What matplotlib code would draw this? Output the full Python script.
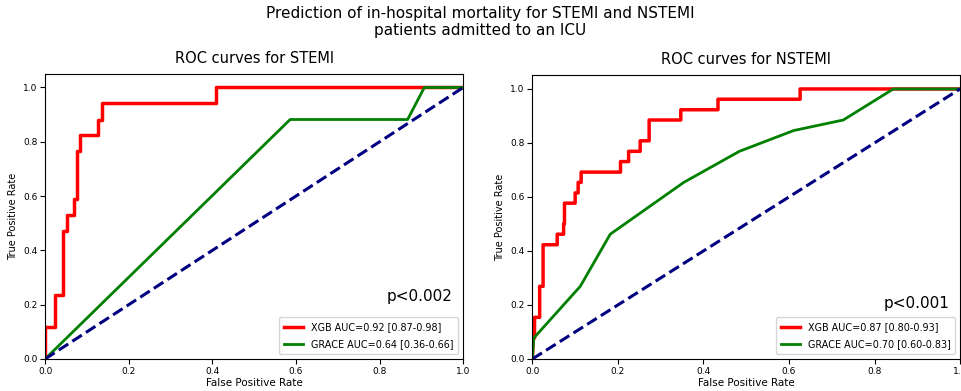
import matplotlib
matplotlib.use("Agg")
import matplotlib.pyplot as plt
from matplotlib import font_manager

# STEMI
stemi_xgb_fpr = [0.0, 0.0, 0.024, 0.024, 0.042, 0.042, 0.052, 0.052, 0.068, 0.068,
                 0.076, 0.076, 0.084, 0.084, 0.126, 0.126, 0.136, 0.136, 0.408, 0.408, 1.0]
stemi_xgb_tpr = [0.0, 0.118, 0.118, 0.235, 0.235, 0.471, 0.471, 0.529, 0.529, 0.588,
                 0.588, 0.765, 0.765, 0.824, 0.824, 0.882, 0.882, 0.941, 0.941, 1.0, 1.0]
stemi_grace_fpr = [0.0, 0.586, 0.867, 0.907, 1.0]
stemi_grace_tpr = [0.0, 0.882, 0.882, 1.0, 1.0]

# NSTEMI
nstemi_xgb_fpr = [0.0, 0.002, 0.005, 0.005, 0.017, 0.017, 0.025, 0.025, 0.058, 0.058,
                  0.073, 0.073, 0.075, 0.075, 0.1, 0.1, 0.107, 0.107, 0.114, 0.114,
                  0.206, 0.206, 0.225, 0.225, 0.252, 0.252, 0.273, 0.273, 0.347, 0.347,
                  0.434, 0.434, 0.626, 0.626, 1.0]
nstemi_xgb_tpr = [0.0, 0.077, 0.077, 0.154, 0.154, 0.269, 0.269, 0.423, 0.423, 0.462,
                  0.462, 0.5, 0.5, 0.577, 0.577, 0.615, 0.615, 0.654, 0.654, 0.692,
                  0.692, 0.731, 0.731, 0.769, 0.769, 0.808, 0.808, 0.885, 0.885, 0.923,
                  0.923, 0.962, 0.962, 1.0, 1.0]
nstemi_grace_fpr = [0.0, 0.003, 0.112, 0.182, 0.354, 0.484, 0.611, 0.727, 0.844, 1.0]
nstemi_grace_tpr = [0.0, 0.077, 0.269, 0.462, 0.654, 0.769, 0.846, 0.885, 1.0, 1.0]

panels = [
    ("ROC curves for STEMI", stemi_xgb_fpr, stemi_xgb_tpr, stemi_grace_fpr, stemi_grace_tpr,
     "XGB AUC=0.92 [0.87-0.98]", "GRACE AUC=0.64 [0.36-0.66]", "p<0.002", 0.23),
    ("ROC curves for NSTEMI", nstemi_xgb_fpr, nstemi_xgb_tpr, nstemi_grace_fpr, nstemi_grace_tpr,
     "XGB AUC=0.87 [0.80-0.93]", "GRACE AUC=0.70 [0.60-0.83]", "p<0.001", 0.205),
]
positions = [[0.047, 0.082, 0.435, 0.729], [0.554, 0.082, 0.445, 0.725]]

# the reference text looks horizontally squeezed, use a narrow face when there is one
names = {f.name for f in font_manager.fontManager.ttflist}
narrow = None
for cand in ["Liberation Sans Narrow", "DejaVu Sans Condensed"]:
    if cand in names:
        narrow = cand
        break
small_family = narrow if narrow else "DejaVu Sans"
leg_size = 8 if narrow else 6.9

fig = plt.figure(figsize=(9.61, 3.91), dpi=100)
fig.suptitle("Prediction of in-hospital mortality for STEMI and NSTEMI\npatients admitted to an ICU",
             fontsize=11, y=0.985)

for pos, (title, xf, xt, gf, gt, lx, lg, ptxt, py) in zip(positions, panels):
    ax = fig.add_axes(pos)
    ax.plot(xf, xt, color="red", lw=2.5, label=lx)
    ax.plot(gf, gt, color="green", lw=2, label=lg)
    ax.plot([0, 1], [0, 1], color="navy", lw=2.2, linestyle="--")
    ax.set_xlim(0, 1.0)
    ax.set_ylim(0, 1.05)
    ax.set_title(title, fontsize=10.5, pad=8)
    ax.set_xlabel("False Positive Rate", fontsize=7.5, family=small_family, labelpad=2)
    ax.set_ylabel("True Positive Rate", fontsize=7, family=small_family)
    ax.tick_params(labelsize=6.5, pad=2)
    for lab in ax.get_xticklabels():
        lab.set_family(small_family)
    ax.text(0.975, py, ptxt, fontsize=11, ha="right", va="center")
    ax.legend(loc="lower right", prop={"family": small_family, "size": leg_size},
              handlelength=2, labelspacing=0.75, borderpad=0.5)

fig.savefig("out.png", dpi=100)
